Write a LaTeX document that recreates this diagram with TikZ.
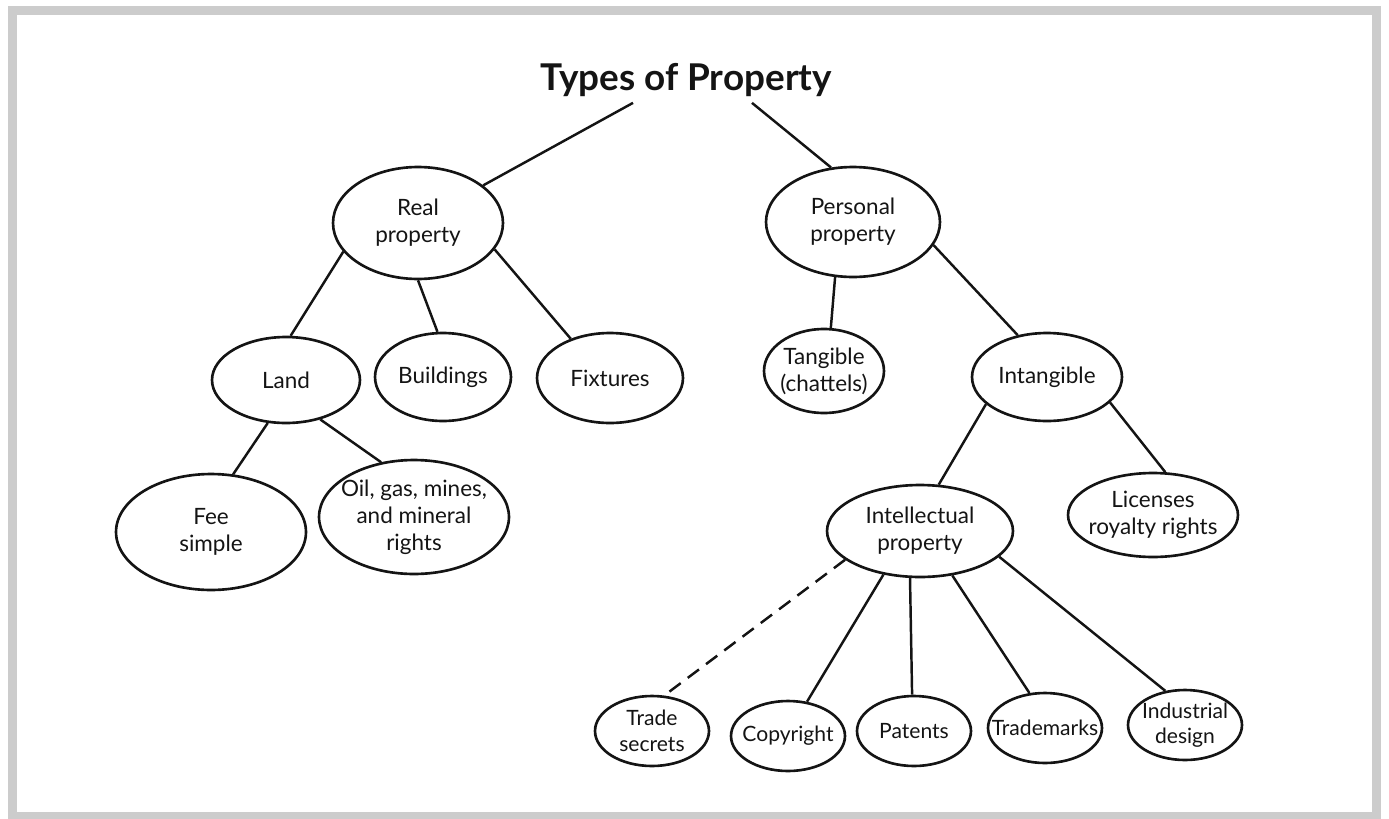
\documentclass[tikz,border=0pt]{standalone}
\usepackage{fontspec}
\setmainfont{Lato}
\usepackage{tikz}
\usetikzlibrary{shapes.geometric, positioning, calc}
\definecolor{frame}{RGB}{204,204,204}
\definecolor{ink}{RGB}{20,20,20}
\tikzset{
  prop/.style={ellipse, draw=ink, line width=1.5pt, inner xsep=-8pt, inner ysep=-4pt,
    align=center, font=\fontsize{12.8}{15.5}\selectfont, text=ink},
  small/.style={prop, minimum width=2.28cm, minimum height=1.4cm,
    font=\fontsize{12}{14.5}\selectfont},
  line/.style={line width=1.4pt, color=ink},
  dashline/.style={line, dash pattern=on 8pt off 5pt}
}
\begin{document}
\begin{tikzpicture}[x=0.02cm, y=-0.02cm]
  % Frame
  \useasboundingbox (0,0) rectangle (1389,818);
  \draw[frame, line width=5.1pt] (12.5,10.5) rectangle (1376.5,816.5);

  % Title
  \node[font=\fontsize{21}{24}\selectfont\bfseries, text=ink] (title) at (686,80) {Types of Property};

  % Level 1
  \node[prop, minimum width=3.4cm, minimum height=2.24cm] (real) at (418,223) {Real\\property};
  \node[prop, minimum width=3.48cm, minimum height=2.2cm] (personal) at (853,222) {Personal\\property};

  % Level 2
  \node[prop, minimum width=2.96cm, minimum height=1.72cm] (land) at (286,380) {Land};
  \node[prop, minimum width=2.72cm, minimum height=1.76cm] (buildings) at (443,377) {Buildings};
  \node[prop, minimum width=2.92cm, minimum height=1.8cm] (fixtures) at (610,378) {Fixtures};
  \node[prop, minimum width=2.4cm, minimum height=1.68cm] (tangible) at (824,371) {Tangible\\(chattels)};
  \node[prop, minimum width=3.0cm, minimum height=1.76cm] (intangible) at (1047,377) {Intangible};

  % Level 3
  \node[prop, minimum width=3.8cm, minimum height=2.32cm] (fee) at (211,532) {Fee\\simple};
  \node[prop, minimum width=3.8cm, minimum height=2.28cm] (oil) at (414,517) {Oil, gas, mines,\\and mineral\\rights};
  \node[prop, minimum width=3.72cm, minimum height=1.84cm] (intellectual) at (920,531) {Intellectual\\property};
  \node[prop, minimum width=3.4cm, minimum height=1.68cm] (licenses) at (1153,515) {Licenses\\royalty rights};

  % Level 4
  \node[small] (trade) at (652,731) {Trade\\secrets};
  \node[small] (copyright) at (788,736) {Copyright};
  \node[small] (patents) at (914,731) {Patents};
  \node[small] (trademarks) at (1045,728) {Trademarks};
  \node[small] (industrial) at (1185,725) {Industrial\\design};

  % Paths
  \draw[line] ([xshift=-1.06cm]title.south) -- (real.30);
  \draw[line] ([xshift=1.32cm]title.south) -- (personal.112);
  \draw[line] (real.201) -- (land.84);
  \draw[line] (real.270) -- (buildings.97);
  \draw[line] (real.341) -- (fixtures.135);
  \draw[line] (personal.252) -- (tangible.81);
  \draw[line] (personal.344) -- (intangible.125);
  \draw[line] (land.247) -- (fee.69);
  \draw[line] (land.311) -- (oil.121);
  \draw[line] (intangible.204) -- (intellectual.68);
  \draw[line] (intangible.338) -- (licenses.74);
  \draw[dashline] (intellectual.201) -- (trade.71);
  \draw[line] (intellectual.230) -- (copyright.61);
  \draw[line] (intellectual.258) -- (patents.93);
  \draw[line] (intellectual.306) -- (trademarks.114);
  \draw[line] (intellectual.342) -- (industrial.120);
\end{tikzpicture}
\end{document}
